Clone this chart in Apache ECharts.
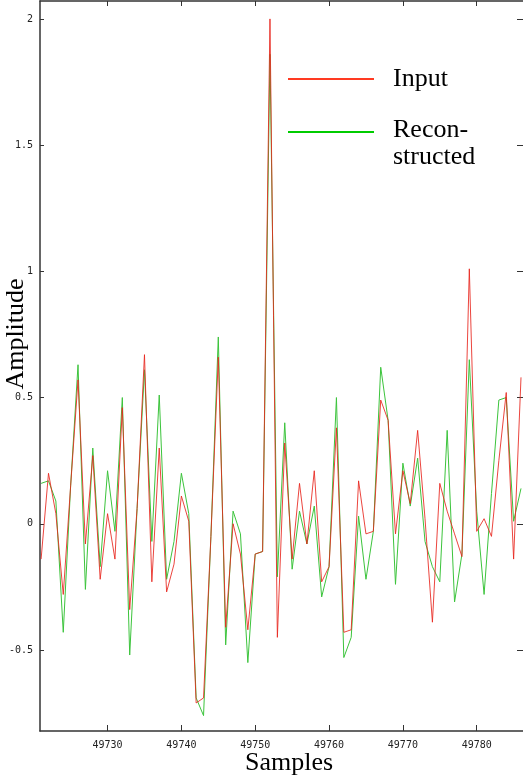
<!DOCTYPE html>
<html>
<head>
<meta charset="utf-8">
<script src="https://cdn.jsdelivr.net/npm/echarts@6/dist/echarts.min.js"></script>
<style>
  html, body { margin: 0; padding: 0; background: #fff; }
  #main { width: 523px; height: 782px; }
</style>
</head>
<body>
<div id="main"></div>
<script>
// sample index along x
var samples = [
  49721, 49722, 49723, 49724, 49725, 49726, 49727, 49728, 49729, 49730,
  49731, 49732, 49733, 49734, 49735, 49736, 49737, 49738, 49739, 49740,
  49741, 49742, 49743, 49744, 49745, 49746, 49747, 49748, 49749, 49750,
  49751, 49752, 49753, 49754, 49755, 49756, 49757, 49758, 49759, 49760,
  49761, 49762, 49763, 49764, 49765, 49766, 49767, 49768, 49769, 49770,
  49771, 49772, 49773, 49774, 49775, 49776, 49777, 49778, 49779, 49780,
  49781, 49782, 49783, 49784, 49785, 49786
];

// input signal (red)
var inputValues = [
  -0.14, 0.20, 0.04, -0.28, 0.15, 0.57, -0.08, 0.27, -0.22, 0.04,
  -0.14, 0.46, -0.34, 0.06, 0.67, -0.23, 0.30, -0.27, -0.16, 0.11,
  0.01, -0.71, -0.69, -0.05, 0.66, -0.41, 0.00, -0.12, -0.42, -0.12,
  -0.11, 2.00, -0.45, 0.32, -0.14, 0.16, -0.08, 0.21, -0.23, -0.17,
  0.38, -0.43, -0.42, 0.17, -0.04, -0.03, 0.49, 0.41, -0.04, 0.21,
  0.08, 0.37, 0.02, -0.39, 0.16, 0.05, -0.04, -0.13, 1.01, -0.03,
  0.02, -0.05, 0.25, 0.52, -0.14, 0.58
];

// reconstructed signal (green)
var reconValues = [
  0.16, 0.17, 0.09, -0.43, 0.15, 0.63, -0.26, 0.30, -0.17, 0.21,
  -0.03, 0.50, -0.52, 0.06, 0.61, -0.07, 0.51, -0.22, -0.07, 0.20,
  0.04, -0.69, -0.76, -0.05, 0.74, -0.48, 0.05, -0.04, -0.55, -0.12,
  -0.11, 1.86, -0.21, 0.40, -0.18, 0.05, -0.08, 0.07, -0.29, -0.17,
  0.50, -0.53, -0.45, 0.03, -0.22, -0.03, 0.62, 0.41, -0.24, 0.24,
  0.07, 0.26, -0.07, -0.17, -0.23, 0.37, -0.31, -0.12, 0.65, 0.05,
  -0.28, 0.12, 0.49, 0.50, 0.01, 0.14
];

var xTicks = [49730, 49740, 49750, 49760, 49770, 49780];
var yTicks = [-0.5, 0, 0.5, 1, 1.5, 2];

// plot runs off the right edge of the picture
var xMin = 49720.85, xMax = 49786.27;
var yMin = -0.821, yMax = 2.071;

var frameColor = '#333';
var tickFont = { fontFamily: 'DejaVu Sans Mono', fontSize: 10, color: '#222' };

function pairs(vals) {
  return samples.map(function (s, i) { return [s, vals[i]]; });
}

var myChart = echarts.init(document.getElementById('main'), null, { renderer: 'canvas' });

var option = {
  animation: false,
  backgroundColor: '#fff',
  grid: { left: 40, right: -2, top: 1, bottom: 51 },
  xAxis: [{
    type: 'value', position: 'bottom', min: xMin, max: xMax,
    axisLine: { show: true, onZero: false, lineStyle: { color: frameColor, width: 1.5 } },
    axisTick: { show: true, inside: true, length: 6, customValues: xTicks, lineStyle: { color: frameColor } },
    axisLabel: Object.assign({ customValues: xTicks, margin: 9, formatter: function (v) { return String(v); } }, tickFont),
    splitLine: { show: false }
  }, {
    type: 'value', position: 'top', min: xMin, max: xMax,
    axisLine: { show: true, onZero: false, lineStyle: { color: frameColor, width: 1.5 } },
    axisTick: { show: true, inside: true, length: 5, customValues: xTicks, lineStyle: { color: frameColor } },
    axisLabel: { show: false },
    splitLine: { show: false }
  }],
  yAxis: [{
    type: 'value', position: 'left', min: yMin, max: yMax,
    axisLine: { show: true, onZero: false, lineStyle: { color: frameColor, width: 1.5 } },
    axisTick: { show: true, inside: true, length: 4, customValues: yTicks, lineStyle: { color: frameColor } },
    axisLabel: Object.assign({ customValues: yTicks, margin: 7 }, tickFont),
    splitLine: { show: false }
  }, {
    type: 'value', position: 'right', min: yMin, max: yMax,
    axisLine: { show: false },
    axisTick: { show: true, inside: true, length: 6, customValues: yTicks, lineStyle: { color: frameColor } },
    axisLabel: { show: false },
    splitLine: { show: false }
  }],
  series: [{
    name: 'Reconstructed',
    type: 'line',
    data: pairs(reconValues),
    showSymbol: false,
    lineStyle: { color: '#3cc43c', width: 1 },
    z: 2
  }, {
    name: 'Input',
    type: 'line',
    data: pairs(inputValues),
    showSymbol: false,
    lineStyle: { color: '#e8241c', width: 1, opacity: 0.85 },
    z: 3
  }],
  graphic: [
    // axis titles
    { type: 'text', left: 290 - 45, top: 750, style: { text: 'Samples', font: '26px "Liberation Serif"', fill: '#000' } },
    { type: 'text', x: 16, y: 334, rotation: Math.PI / 2,
      style: { text: 'Amplitude', font: '26px "Liberation Serif"', fill: '#000', align: 'center', verticalAlign: 'middle' } },
    // legend
    { type: 'line', shape: { x1: 288, y1: 79, x2: 374, y2: 79 }, style: { stroke: '#ff3a22', lineWidth: 2 } },
    { type: 'text', x: 393, y: 79, style: { text: 'Input', font: '26px "Liberation Serif"', fill: '#000', verticalAlign: 'middle' } },
    { type: 'line', shape: { x1: 288, y1: 132, x2: 374, y2: 132 }, style: { stroke: '#00cc00', lineWidth: 2 } },
    { type: 'text', x: 393, y: 130, style: { text: 'Recon-', font: '26px "Liberation Serif"', fill: '#000', verticalAlign: 'middle' } },
    { type: 'text', x: 393, y: 157, style: { text: 'structed', font: '26px "Liberation Serif"', fill: '#000', verticalAlign: 'middle' } }
  ]
};

myChart.setOption(option);
</script>
</body>
</html>
